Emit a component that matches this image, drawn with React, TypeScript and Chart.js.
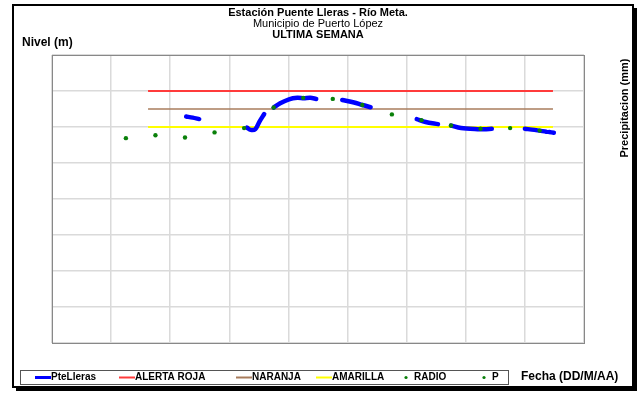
import React, { useEffect, useRef } from "react";
import { Chart, registerables } from "chart.js";

Chart.register(...registerables);

// ---- Data (x in days from chart start, y in metres on a 0..8 scale) ----
const nivelX = [
  2.27, 2.38, 2.49, 2.9,
  3.30, 3.36, 3.44, 3.51, 3.59, 3.67,
  3.75, 3.86, 4.01, 4.15, 4.26, 4.37, 4.47, 4.7,
  4.91, 5.11, 5.25, 5.39, 5.8,
  6.17, 6.32, 6.53, 6.64,
  6.75, 6.92, 7.20, 7.31, 7.44, 7.7,
  8.00, 8.16, 8.36, 8.38,
  8.41, 8.49,
];
const nivelY: (number | null)[] = [
  6.29, 6.26, 6.22, null,
  5.98, 5.92, 5.94, 6.15, 6.36, null,
  6.54, 6.66, 6.77, 6.81, 6.80, 6.81, 6.78, null,
  6.75, 6.68, 6.61, 6.55, null,
  6.22, 6.14, 6.08, null,
  6.04, 5.97, 5.94, 5.94, 5.95, null,
  5.95, 5.92, 5.87, null,
  5.86, 5.84,
];

const radioX = [1.25, 1.75, 2.25, 2.75, 3.25, 3.75, 4.25, 4.75, 5.25, 5.75, 6.25, 6.75, 7.25, 7.75, 8.25];
const radioY = [5.69, 5.77, 5.71, 5.85, 5.97, 6.54, 6.81, 6.78, 6.61, 6.35, 6.19, 6.04, 5.95, 5.97, 5.9];

const umbralX = [1.625, 8.475];
const alertaRoja = 7;
const naranja = 6.5;
const amarilla = 6;

const titulo = "Estación Puente Lleras - Río Meta.";
const subtitulo = "Municipio de Puerto López";
const periodo = "ULTIMA SEMANA";
const ejeY = "Nivel (m)";
const ejeY2 = "Precipitacion (mm)";
const ejeX = "Fecha (DD/M/AA)";

const FONT = "'Liberation Sans', Arial, sans-serif";

const framePlugin = {
  id: "framePlugin",
  beforeDraw(chart: any) {
    const ctx = chart.ctx;
    ctx.save();
    ctx.fillStyle = "#ffffff";
    ctx.fillRect(0, 0, chart.width, chart.height);
    ctx.restore();
  },
  beforeDatasetsDraw(chart: any) {
    const { ctx, chartArea: a } = chart;
    ctx.save();
    ctx.strokeStyle = "#888888";
    ctx.lineWidth = 1;
    ctx.strokeRect(a.left + 0.5, a.top + 0.5, a.right - a.left, a.bottom - a.top);
    ctx.restore();
  },
  afterDraw(chart: any) {
    const ctx = chart.ctx;
    ctx.save();
    // outer frame with shadow
    ctx.strokeStyle = "#000";
    ctx.lineWidth = 2;
    ctx.strokeRect(13, 5, 620, 382);
    ctx.fillStyle = "#000";
    ctx.fillRect(633, 8, 4, 383);
    ctx.fillRect(16, 387, 621, 4);

    // titles
    ctx.fillStyle = "#000";
    ctx.textAlign = "center";
    ctx.textBaseline = "middle";
    ctx.font = `bold 11px ${FONT}`;
    ctx.fillText(titulo, 318, 12.5);
    ctx.font = `11px ${FONT}`;
    ctx.fillText(subtitulo, 318, 24);
    ctx.font = `bold 11px ${FONT}`;
    ctx.fillText(periodo, 318, 34.5);

    ctx.textAlign = "left";
    ctx.font = `bold 12px ${FONT}`;
    ctx.fillText(ejeY, 22, 43);
    ctx.fillText(ejeX, 521, 377);

    ctx.save();
    ctx.translate(625, 108);
    ctx.rotate(-Math.PI / 2);
    ctx.textAlign = "center";
    ctx.font = `bold 11px ${FONT}`;
    ctx.fillText(ejeY2, 0, 0);
    ctx.restore();

    // legend box
    ctx.strokeStyle = "#555";
    ctx.lineWidth = 1;
    ctx.strokeRect(20.5, 370.5, 488, 14);
    const xs = [35, 119, 236, 316, 404, 482];
    const ly = 377.5;
    ctx.font = `bold 10px ${FONT}`;
    ctx.textBaseline = "middle";
    chart.data.datasets.forEach((ds: any, i: number) => {
      const x = xs[i];
      if (ds.showLine === false) {
        ctx.fillStyle = ds.pointBackgroundColor;
        ctx.beginPath();
        ctx.arc(x + 2, ly, 1.6, 0, Math.PI * 2);
        ctx.fill();
        ctx.fillStyle = "#000";
        ctx.fillText(ds.label, x + 10, ly);
      } else {
        ctx.strokeStyle = ds.borderColor;
        ctx.lineWidth = ds.borderWidth >= 4 ? 3 : 2;
        ctx.lineCap = "butt";
        ctx.beginPath();
        ctx.moveTo(x, ly);
        ctx.lineTo(x + 16, ly);
        ctx.stroke();
        ctx.fillStyle = "#000";
        ctx.fillText(ds.label, x + 16, ly);
      }
    });
    ctx.restore();
  },
};

export default function App() {
  const ref = useRef<HTMLCanvasElement>(null);
  useEffect(() => {
    if (!ref.current) return;
    const pts = (xs: number[], ys: (number | null)[]) => xs.map((x, i) => ({ x, y: ys[i] }));
    const flat = (v: number) => umbralX.map((x) => ({ x, y: v }));
    const chart = new Chart(ref.current, {
      type: "line",
      data: {
        datasets: [
          {
            label: "PteLleras",
            data: pts(nivelX, nivelY),
            borderColor: "#0000ff",
            borderWidth: 4.5,
            borderCapStyle: "round",
            borderJoinStyle: "round",
            pointRadius: 0,
            spanGaps: false,
            tension: 0.3,
            order: 2,
          },
          {
            label: "ALERTA ROJA",
            data: flat(alertaRoja),
            borderColor: "#ff3b3b",
            borderWidth: 2,
            pointRadius: 0,
            order: 3,
          },
          {
            label: "NARANJA",
            data: flat(naranja),
            borderColor: "#a87c5c",
            borderWidth: 1.5,
            pointRadius: 0,
            order: 3,
          },
          {
            label: "AMARILLA",
            data: flat(amarilla),
            borderColor: "#ffff00",
            borderWidth: 2,
            pointRadius: 0,
            order: 3,
          },
          {
            label: "RADIO",
            data: pts(radioX, radioY),
            showLine: false,
            pointRadius: 2.2,
            pointBorderWidth: 0,
            pointBackgroundColor: "#0a800a",
            borderColor: "#0a800a",
            order: 1,
          },
          {
            label: "P",
            data: [],
            showLine: false,
            pointRadius: 2,
            pointBackgroundColor: "#0a800a",
            borderColor: "#0a800a",
            order: 1,
          },
        ] as any,
      },
      options: {
        responsive: false,
        animation: false,
        devicePixelRatio: 1,
        layout: { padding: { left: 52, top: 55, right: 57, bottom: 50 } },
        plugins: { legend: { display: false }, title: { display: false }, tooltip: { enabled: false } },
        scales: {
          x: {
            type: "linear",
            min: 0,
            max: 9,
            ticks: { display: false, stepSize: 1 },
            grid: { color: "#dadada", lineWidth: 1.5, drawTicks: false },
            border: { display: false },
          },
          y: {
            type: "linear",
            min: 0,
            max: 8,
            ticks: { display: false, stepSize: 1 },
            grid: { color: "#dadada", lineWidth: 1.5, drawTicks: false },
            border: { display: false },
          },
        },
      } as any,
      plugins: [framePlugin],
    });
    return () => chart.destroy();
  }, []);
  return (
    <div style={{ position: "absolute", left: 0, top: 0, width: 641, height: 393 }}>
      <canvas ref={ref} width={641} height={393} style={{ width: 641, height: 393, display: "block" }} />
    </div>
  );
}
